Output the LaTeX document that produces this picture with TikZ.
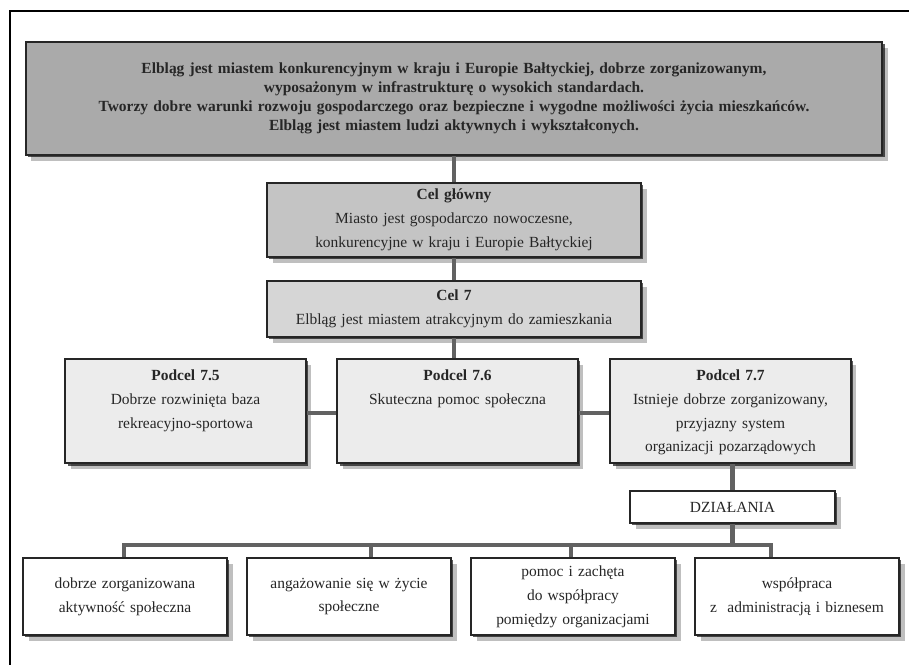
\documentclass[tikz,border=0pt]{standalone}
\usepackage{fontspec}
\setmainfont{Liberation Serif}
\usetikzlibrary{shadows}

\definecolor{wizjagray}{HTML}{AAAAAA}
\definecolor{celgray}{HTML}{C4C4C4}
\definecolor{cel7gray}{HTML}{D6D6D6}
\definecolor{podcelgray}{HTML}{ECECEC}
\definecolor{linkgray}{HTML}{626262}

\begin{document}
\begin{tikzpicture}[x=0.025cm, y=-0.025cm,
    box/.style={draw=black!85, line width=1.4pt, align=center, text=black!85,
        font=\fontsize{11}{17}\selectfont, inner xsep=4pt,
        drop shadow={shadow xshift=0.06cm, shadow yshift=-0.06cm, fill=black, opacity=0.65},
        drop shadow={shadow xshift=0.14cm, shadow yshift=-0.14cm, fill=black, opacity=0.25}},
    podcel/.style={box, fill=podcelgray, anchor=north, minimum width=6cm, text width=5.6cm,
        inner ysep=0.25cm, text height=8pt, text depth=52pt},
    dzial/.style={box, fill=white, minimum width=5.1cm, text width=4.8cm, minimum height=1.925cm},
    link/.style={draw=linkgray, line width=3.5pt}]
    \useasboundingbox (0,0) rectangle (909,665);

    % Ramka
    \draw[line width=2.1pt] (10,665) -- (10,11) -- (909,11);

    % Wizja
    \node[box, fill=wizjagray, font=\fontsize{11}{13.4}\selectfont\bfseries,
        text width=20cm, minimum width=21.4cm, minimum height=2.825cm] (wizja) at (454,98.5)
        {Elbląg jest miastem konkurencyjnym w kraju i Europie Bałtyckiej, dobrze zorganizowanym,\\
         wyposażonym w infrastrukturę o wysokich standardach.\\
         Tworzy dobre warunki rozwoju gospodarczego oraz bezpieczne i wygodne możliwości życia mieszkańców.\\
         Elbląg jest miastem ludzi aktywnych i wykształconych.};

    % Cel główny i cel 7
    \node[box, fill=celgray, text width=8.8cm, minimum width=9.35cm, minimum height=1.85cm] (celg) at (454,220)
        {\textbf{Cel główny}\\ Miasto jest gospodarczo nowoczesne,\\ konkurencyjne w kraju i Europie Bałtyckiej};
    \node[box, fill=cel7gray, text width=8.8cm, minimum width=9.35cm, minimum height=1.4cm] (cel7) at (454,309)
        {\textbf{Cel 7}\\ Elbląg jest miastem atrakcyjnym do zamieszkania};

    % Podcele
    \node[podcel] (p75) at (185.5,358) {\textbf{Podcel 7.5}\\ Dobrze rozwinięta baza\\ rekreacyjno-sportowa};
    \node[podcel] (p76) at (457.5,358) {\textbf{Podcel 7.6}\\ Skuteczna pomoc społeczna};
    \node[podcel] (p77) at (730.5,358) {\textbf{Podcel 7.7}\\ Istnieje dobrze zorganizowany,\\ przyjazny system\\ organizacji pozarządowych};

    % Działania
    \node[box, fill=white, minimum width=5.125cm, minimum height=0.8cm] (dz) at (732.5,507) {DZIAŁANIA};
    \node[dzial] (b1) at (125,596.5) {dobrze zorganizowana\\ aktywność społeczna};
    \node[dzial] (b2) at (349,596.5) {angażowanie się w życie\\ społeczne};
    \node[dzial] (b3) at (573,596.5) {pomoc i zachęta\\ do współpracy\\ pomiędzy organizacjami};
    \node[dzial] (b4) at (797,596.5) {współpraca\\ z~~administracją i biznesem};

    % Punkty szyny
    \coordinate (j1) at (124,545);
    \coordinate (j2) at (371,545);
    \coordinate (j3) at (571,545);
    \coordinate (j4) at (771,545);

    % Połączenia
    \draw[link] (wizja.south) -- (celg.north);
    \draw[link] (celg.south) -- (cel7.north);
    \draw[link] (cel7.south) -- (cel7.south |- p76.north);
    \draw[link] (p75.east |- 0,413) -- (p76.west |- 0,413);
    \draw[link] (p76.east |- 0,413) -- (p77.west |- 0,413);
    \draw[link] (p77.south -| dz.north) -- (dz.north);
    \draw[link] (dz.south) -- (dz.south |- j1);
    \draw[link] (j1 |- b1.north) -- (j1) -- (j4) -- (j4 |- b4.north);
    \draw[link] (j2) -- (j2 |- b2.north);
    \draw[link] (j3) -- (j3 |- b3.north);
\end{tikzpicture}
\end{document}
